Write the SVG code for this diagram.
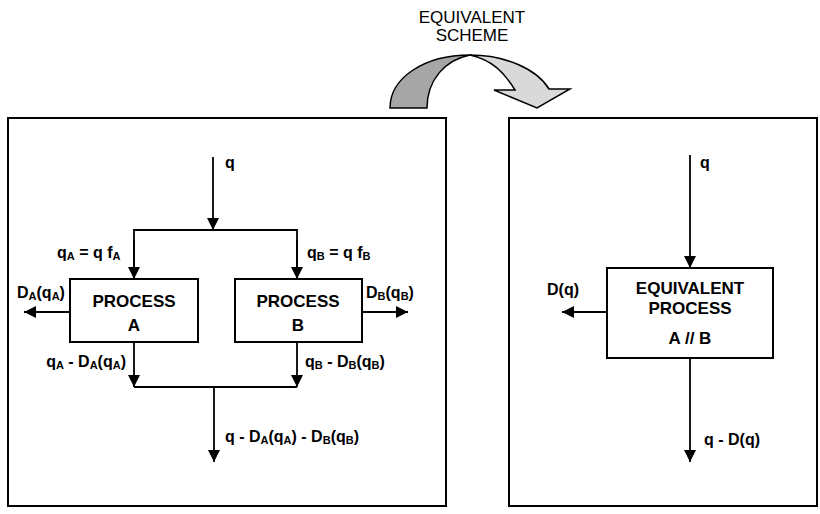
<svg xmlns="http://www.w3.org/2000/svg" width="820" height="514" viewBox="0 0 820 514">
<style>
text{font-family:"Liberation Sans",Arial,sans-serif;font-size:16px;font-weight:bold;fill:#000}
.t{font-size:17px}
.top{font-weight:normal;font-size:17px}
.s{font-size:11px}
.box{fill:#fff;stroke:#000;stroke-width:2}
.ln{fill:none;stroke:#000;stroke-width:1.8}
</style>
<defs>
<marker id="ah" markerUnits="userSpaceOnUse" markerWidth="12" markerHeight="12" refX="12" refY="6" orient="auto">
<path d="M0,0 L12,6 L0,12 z" fill="#000"/>
</marker>
</defs>
<rect width="820" height="514" fill="#fff"/>
<g id="title">
<text class="top" x="472" y="23" text-anchor="middle">EQUIVALENT</text>
<text class="top" x="472" y="41" text-anchor="middle">SCHEME</text>
</g>
<g id="curved-arrow" stroke="#000" stroke-width="1.5" stroke-linejoin="miter">
<path d="M390,108 C390,78 424,55 470,55 C445,60 427,80 427,108 Z" fill="#a6a6a6"/>
<path d="M470,55 C505,55 537,69 549,89 L570,89 L537,108 L494,90 L515,90 C504,72 492,60 470,55 Z" fill="#d9d9d9"/>
</g>
<g id="panel-left"><rect class="box" x="8" y="118" width="438" height="388"/></g>
<g id="panel-right"><rect class="box" x="509" y="118" width="308" height="388"/></g>
<g id="connectors">
<line class="ln" x1="213" y1="157" x2="213" y2="230" marker-end="url(#ah)"/>
<polyline class="ln" points="134,279 134,230 297,230 297,279"/>
<line class="ln" x1="134" y1="240" x2="134" y2="279" marker-end="url(#ah)"/>
<line class="ln" x1="297" y1="240" x2="297" y2="279" marker-end="url(#ah)"/>
<line class="ln" x1="70" y1="312" x2="24" y2="312" marker-end="url(#ah)"/>
<line class="ln" x1="362" y1="312" x2="408" y2="312" marker-end="url(#ah)"/>
<line class="ln" x1="134" y1="342" x2="134" y2="387" marker-end="url(#ah)"/>
<line class="ln" x1="297" y1="342" x2="297" y2="387" marker-end="url(#ah)"/>
<line class="ln" x1="134" y1="387" x2="297" y2="387"/>
<line class="ln" x1="214" y1="387" x2="214" y2="462" marker-end="url(#ah)"/>
<line class="ln" x1="690" y1="155" x2="690" y2="268" marker-end="url(#ah)"/>
<line class="ln" x1="607" y1="312" x2="562" y2="312" marker-end="url(#ah)"/>
<line class="ln" x1="690" y1="358" x2="690" y2="462" marker-end="url(#ah)"/>
</g>
<g id="process-a">
<rect class="box" x="70" y="279" width="128" height="63"/>
<text class="t" x="134" y="307" text-anchor="middle">PROCESS</text>
<text class="t" x="134" y="331" text-anchor="middle">A</text>
</g>
<g id="process-b">
<rect class="box" x="235" y="279" width="127" height="63"/>
<text class="t" x="298" y="307" text-anchor="middle">PROCESS</text>
<text class="t" x="298" y="331" text-anchor="middle">B</text>
</g>
<g id="equivalent-process">
<rect class="box" x="607" y="268" width="166" height="90"/>
<text class="t" x="690" y="294" text-anchor="middle">EQUIVALENT</text>
<text class="t" x="690" y="314" text-anchor="middle">PROCESS</text>
<text class="t" x="690" y="344" text-anchor="middle">A // B</text>
</g>
<g id="labels">
<text x="225" y="168">q</text>
<text x="57" y="258">q<tspan class="s" dy="2">A</tspan><tspan dy="-2"> = q f</tspan><tspan class="s" dy="2">A</tspan></text>
<text x="307" y="258">q<tspan class="s" dy="2">B</tspan><tspan dy="-2"> = q f</tspan><tspan class="s" dy="2">B</tspan></text>
<text x="17" y="298">D<tspan class="s" dy="2">A</tspan><tspan dy="-2">(q</tspan><tspan class="s" dy="2">A</tspan><tspan dy="-2">)</tspan></text>
<text x="366" y="298">D<tspan class="s" dy="2">B</tspan><tspan dy="-2">(q</tspan><tspan class="s" dy="2">B</tspan><tspan dy="-2">)</tspan></text>
<text x="126" y="367" text-anchor="end">q<tspan class="s" dy="2">A</tspan><tspan dy="-2"> - D</tspan><tspan class="s" dy="2">A</tspan><tspan dy="-2">(q</tspan><tspan class="s" dy="2">A</tspan><tspan dy="-2">)</tspan></text>
<text x="305" y="367">q<tspan class="s" dy="2">B</tspan><tspan dy="-2"> - D</tspan><tspan class="s" dy="2">B</tspan><tspan dy="-2">(q</tspan><tspan class="s" dy="2">B</tspan><tspan dy="-2">)</tspan></text>
<text x="225" y="442">q - D<tspan class="s" dy="2">A</tspan><tspan dy="-2">(q</tspan><tspan class="s" dy="2">A</tspan><tspan dy="-2">) - D</tspan><tspan class="s" dy="2">B</tspan><tspan dy="-2">(q</tspan><tspan class="s" dy="2">B</tspan><tspan dy="-2">)</tspan></text>
<text x="700" y="168">q</text>
<text x="547" y="295">D(q)</text>
<text x="704" y="445">q - D(q)</text>
</g>
</svg>
